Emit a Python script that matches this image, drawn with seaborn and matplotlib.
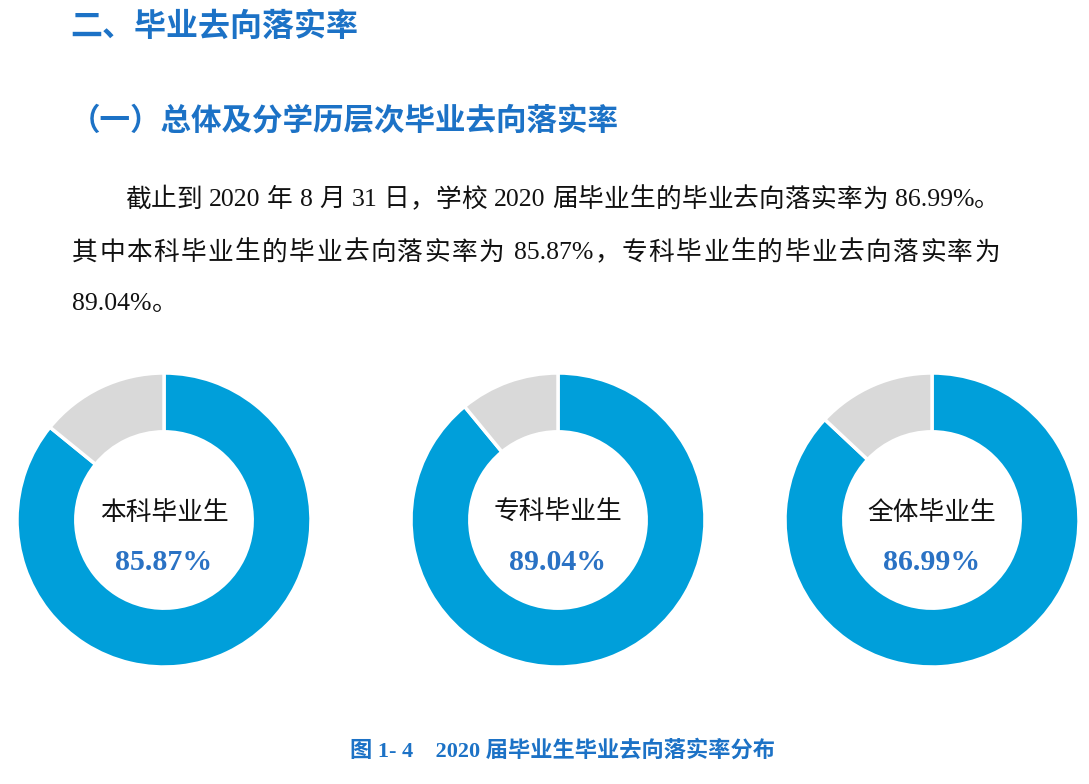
import matplotlib
matplotlib.use("Agg")
import matplotlib.pyplot as plt
import seaborn as sns

# ---- data ----
groups = ["本科毕业生", "专科毕业生", "全体毕业生"]
rates = [85.87, 89.04, 86.99]
rate_labels = ["85.87%", "89.04%", "86.99%"]

title1 = "二、毕业去向落实率"
title2 = "（一）总体及分学历层次毕业去向落实率"
body_lines = [
    "截止到 2020 年 8 月 31 日，学校 2020 届毕业生的毕业去向落实率为 86.99%。",
    "其中本科毕业生的毕业去向落实率为 85.87%，专科毕业生的毕业去向落实率为",
    "89.04%。",
]
caption = "图 1- 4    2020 届毕业生毕业去向落实率分布"

sns.set_theme(style="white")
plt.rcParams['font.family'] = ['Noto Sans CJK SC', 'DejaVu Sans']

W, H = 1089, 784
fig = plt.figure(figsize=(W / 100, H / 100), dpi=100)
fig.patch.set_facecolor("white")
renderer = fig.canvas.get_renderer()

blue = "#009FDA"
gray = "#D9D9D9"
head_blue = "#1C72C6"
pct_blue = "#2A72C4"

serif_cjk = ['Liberation Serif', 'Noto Sans CJK SC']


def fx(px):
    return px / W


def fy(py):
    return 1 - py / H


def tokenize(s):
    toks = []
    cur = ""
    for ch in s:
        if ch == " ":
            if cur:
                toks.append(cur)
                cur = ""
            toks.append(" ")
        elif ord(ch) < 128:
            cur += ch
        else:
            if cur:
                toks.append(cur)
                cur = ""
            toks.append(ch)
    if cur:
        toks.append(cur)
    return toks


def draw_line(s, x0, y, size, x1=None, **kw):
    toks = tokenize(s)
    space_w = size * 100 / 72 * 0.25
    items = []
    for t in toks:
        if t == " ":
            items.append((None, space_w))
        else:
            tx = fig.text(fx(x0), fy(y), t, fontsize=size, va='center', ha='left', **kw)
            w = tx.get_window_extent(renderer).width
            items.append((tx, w))
    total = sum(w for _, w in items)
    n_gaps = len(items) - 1
    gap = 0.0
    if x1 is not None and n_gaps > 0:
        gap = max(0.0, (x1 - x0 - total) / n_gaps)
    x = x0
    for tx, w in items:
        if tx is not None:
            tx.set_x(fx(x))
        x += w + gap


# headings
fig.text(fx(70), fy(27), title1, fontsize=23, fontweight='bold', color=head_blue,
         va='center', ha='left', family=['Noto Sans CJK SC', 'DejaVu Sans'])
fig.text(fx(70), fy(121), title2, fontsize=22, fontweight='bold', color=head_blue,
         va='center', ha='left', family=['Noto Sans CJK SC', 'DejaVu Sans'])

# body (justified lines)
draw_line(body_lines[0], 125, 200, 18.5, x1=1000, color="#111111", family=serif_cjk)
draw_line(body_lines[1], 72, 253, 18.5, x1=1000, color="#111111", family=serif_cjk)
draw_line(body_lines[2], 72, 304, 18.5, color="#111111", family=serif_cjk)

# donuts
centers_x = [164, 558, 932]
center_y = 520
radius_px = 147
size_px = 300
for g, r, lab, cx in zip(groups, rates, rate_labels, centers_x):
    ax = fig.add_axes([fx(cx - size_px / 2), fy(center_y + size_px / 2),
                       size_px / W, size_px / H])
    lim = size_px / 2 / radius_px
    ax.pie([r, 100 - r], colors=[blue, gray], startangle=90, counterclock=False,
           radius=1.0, wedgeprops=dict(width=0.4, edgecolor='white', linewidth=2.5))
    ax.set_xlim(-lim, lim)
    ax.set_ylim(-lim, lim)
    ax.set_aspect('equal')
    ax.axis('off')
    ax.text(0, 0.05, g, ha='center', va='center', fontsize=18.5, color='#111111',
            family=['Noto Sans CJK SC', 'DejaVu Sans'])
    ax.text(0, -0.29, lab, ha='center', va='center', fontsize=21.5, color=pct_blue,
            fontweight='bold', family=['Liberation Serif', 'DejaVu Serif'])

# caption
fig.text(fx(563), fy(751), caption, fontsize=16, fontweight='bold', color=head_blue,
         ha='center', va='center', family=serif_cjk)

fig.savefig("out.png", dpi=100, facecolor="white")
